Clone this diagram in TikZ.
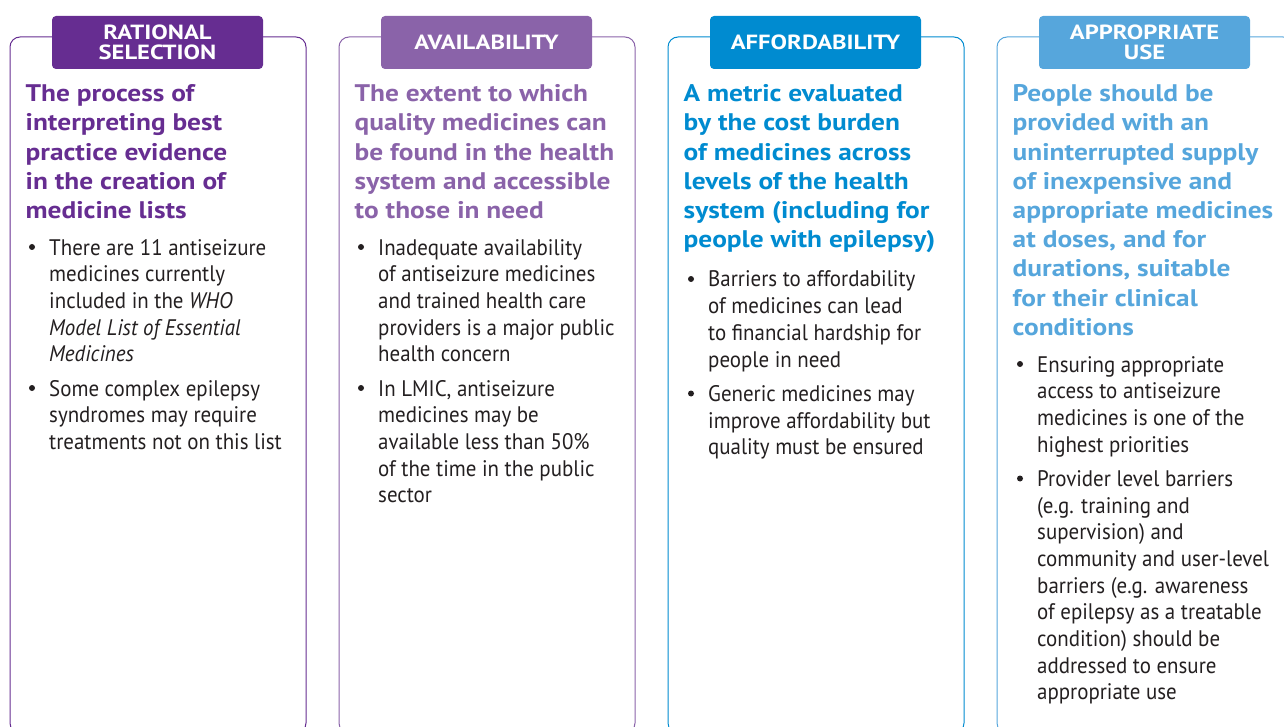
\documentclass[tikz,border=0pt]{standalone}
\usepackage{fontspec}
\setmainfont{PT Sans}
\newfontfamily\hdfam[FakeStretch=1.14]{PT Sans}
\newfontfamily\tgfam[FakeStretch=1.2]{PT Sans}
\newfontfamily\bdfam[FakeStretch=0.93]{PT Sans}
\definecolor{cA}{HTML}{662D91}
\definecolor{cB}{HTML}{8A63A9}
\definecolor{cC}{HTML}{008BD0}
\definecolor{cD}{HTML}{56A6DC}
\definecolor{txt}{HTML}{231F20}
\newcommand\hdfont{\hdfam\bfseries\fontsize{24}{29.2}\selectfont}
\newcommand\bdfont{\bdfam\fontsize{22.5}{26.67}\selectfont}
\newcommand\tgfont{\tgfam\bfseries\fontsize{20.5}{20}\selectfont}
\tikzset{
  panel/.style={draw=#1, line width=1pt, rounded corners=10pt},
  tag/.style={fill=#1, rounded corners=4pt, text=white, font=\tgfont, align=center,
              inner sep=0pt, minimum width=211pt, minimum height=53pt},
  head/.style={text=#1, anchor=base west, inner sep=0pt},
  body/.style={text=txt, anchor=base west, inner sep=0pt},
  dot/.style={fill=txt},
}
\newcommand\hd[1]{\parbox[t]{290pt}{\hdfont\raggedright #1}}
\newcommand\bd[1]{\parbox[t]{290pt}{\bdfont\raggedright #1}}
\begin{document}
\begin{tikzpicture}[x=1pt,y=-1pt]
\useasboundingbox (0,0) rectangle (1284,727);
\clip (0,0) rectangle (1284,727);
% ---------- panel 1
\draw[panel=cA] (10,733) rectangle (306,37);
\node[tag=cA] (t1) at (157.5,42.5) {RATIONAL\\[-0.5pt]SELECTION};
\node[head=cA] (h1) at (25.5,101.7) {\hd{The process of\\interpreting best\\practice evidence\\in the creation of\\medicine lists}};
\node[body] (b1a) at (49,255) {\bd{There are 11 antiseizure\\medicines currently\\included in the \textit{WHO}\\\textit{Model List of Essential}\\\textit{Medicines}}};
\node[body] (b1b) at (49,396) {\bd{Some complex epilepsy\\syndromes may require\\treatments not on this list}};
\fill[dot] (32,247) circle (3pt);
\fill[dot] (32,388) circle (3pt);
% ---------- panel 2
\draw[panel=cB] (339,733) rectangle (635,37);
\node[tag=cB] (t2) at (486.5,42.5) {AVAILABILITY};
\node[head=cB] (h2) at (354.5,101.7) {\hd{The extent to which\\quality medicines can\\be found in the health\\system and accessible\\to those in need}};
\node[body] (b2a) at (378,255) {\bd{Inadequate availability\\of antiseizure medicines\\and trained health care\\providers is a major public\\health concern}};
\node[body] (b2b) at (378,396) {\bd{In LMIC, antiseizure\\medicines may be\\available less than 50\%\\of the time in the public\\sector}};
\fill[dot] (361,247) circle (3pt);
\fill[dot] (361,388) circle (3pt);
% ---------- panel 3
\draw[panel=cC] (668,733) rectangle (964,37);
\node[tag=cC] (t3) at (815.5,42.5) {AFFORDABILITY};
\node[head=cC] (h3) at (683.5,101.7) {\hd{A metric evaluated\\by the cost burden\\of medicines across\\levels of the health\\system (including for\\people with epilepsy)}};
\node[body] (b3a) at (708,287) {\bd{Barriers to affordability\\of medicines can lead\\to financial hardship for\\people in need}};
\node[body] (b3b) at (708,401.5) {\bd{Generic medicines may\\improve affordability but\\quality must be ensured}};
\fill[dot] (691,279) circle (3pt);
\fill[dot] (691,393.5) circle (3pt);
% ---------- panel 4
\draw[panel=cD] (997,733) rectangle (1293,37);
\node[tag=cD] (t4) at (1144.5,42.5) {APPROPRIATE\\[-0.5pt]USE};
\node[head=cD] (h4) at (1012.5,101.7) {\hd{People should be\\provided with an\\uninterrupted supply\\of inexpensive and\\appropriate medicines\\at doses, and for\\durations, suitable\\for their clinical\\conditions}};
\node[body] (b4a) at (1037,372) {\bd{Ensuring appropriate\\access to antiseizure\\medicines is one of the\\highest priorities}};
\node[body] (b4b) at (1037,486.5) {\bd{Provider level barriers\\(e.g. training and\\supervision) and\\community and user-level\\barriers (e.g. awareness\\of epilepsy as a treatable\\condition) should be\\addressed to ensure\\appropriate use}};
\fill[dot] (1020,364) circle (3pt);
\fill[dot] (1020,478.5) circle (3pt);
\end{tikzpicture}
\end{document}
